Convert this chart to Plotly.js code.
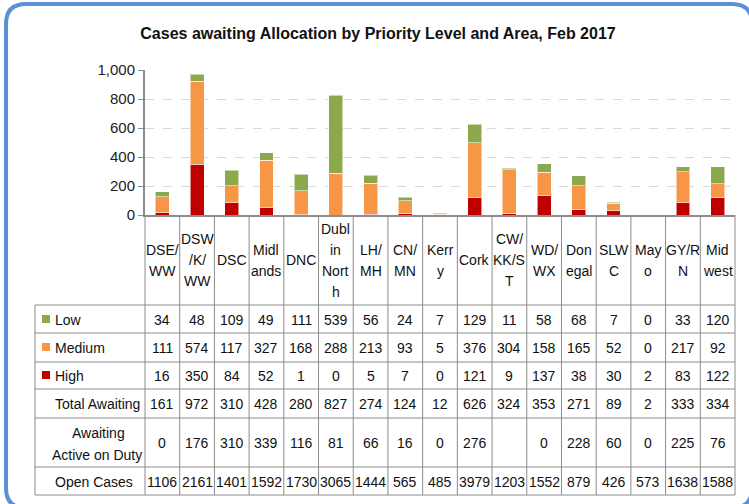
<!DOCTYPE html>
<html>
<head>
<meta charset="utf-8">
<script src="https://cdn.plot.ly/plotly-3.0.1.min.js"></script>
<style>
  html, body { margin: 0; padding: 0; background: #fff; }
  #chart { width: 749px; height: 504px; }
</style>
</head>
<body>
<div id="chart"></div>
<script>
const areas = ['DSE/WW', 'DSW/K/WW', 'DSC', 'Midlands', 'DNC', 'Dublin North', 'LH/MH', 'CN/MN', 'Kerry', 'Cork', 'CW/KK/ST', 'WD/WX', 'Donegal', 'SLWC', 'Mayo', 'GY/RN', 'Midwest'];
// header cells as wrapped in the original table
const headerLines = [['DSE/', 'WW'], ['DSW', '/K/', 'WW'], ['DSC'], ['Midl', 'ands'], ['DNC'], ['Dubl', 'in', 'Nort', 'h'], ['LH/', 'MH'], ['CN/', 'MN'], ['Kerr', 'y'], ['Cork'], ['CW/', 'KK/S', 'T'], ['WD/', 'WX'], ['Don', 'egal'], ['SLW', 'C'], ['May', 'o'], ['GY/R', 'N'], ['Mid', 'west']];

const low = [34, 48, 109, 49, 111, 539, 56, 24, 7, 129, 11, 58, 68, 7, 0, 33, 120];
const medium = [111, 574, 117, 327, 168, 288, 213, 93, 5, 376, 304, 158, 165, 52, 0, 217, 92];
const high = [16, 350, 84, 52, 1, 0, 5, 7, 0, 121, 9, 137, 38, 30, 2, 83, 122];
const totalAwaiting = [161, 972, 310, 428, 280, 827, 274, 124, 12, 626, 324, 353, 271, 89, 2, 333, 334];
const activeOnDuty = [0, 176, 310, 339, 116, 81, 66, 16, 0, 276, null, 0, 228, 60, 0, 225, 76];
const openCases = [1106, 2161, 1401, 1592, 1730, 3065, 1444, 565, 485, 3979, 1203, 1552, 879, 426, 573, 1638, 1588];

const cLow = '#8CA84C';
const cMed = '#F79646';
const cHigh = '#C00000';
const FONT = '"Liberation Sans Narrow", "Liberation Sans", Arial, sans-serif';
const grid = '#8C8C8C';

// plot area in pixels
const X0 = 145, X1 = 735, Y0 = 215, Y1 = 70;
const fx = (px) => (px - X0) / (X1 - X0);
const fy = (py) => (Y0 - py) / (Y0 - Y1);
const colW = (X1 - X0) / areas.length;
const colX = (i) => X0 + (i + 0.5) * colW;

const edge = { color: 'rgba(255,255,255,0.55)', width: 1 };
const traces = [
  { type: 'bar', name: 'High', x: areas, y: high, marker: { color: cHigh, line: edge } },
  { type: 'bar', name: 'Medium', x: areas, y: medium, marker: { color: cMed, line: edge } },
  { type: 'bar', name: 'Low', x: areas, y: low, marker: { color: cLow, line: edge } }
];

const shapes = [];
const annotations = [];
const line = (xa, ya, xb, yb) => shapes.push({
  type: 'line', xref: 'paper', yref: 'paper', x0: fx(xa), y0: fy(ya), x1: fx(xb), y1: fy(yb),
  line: { color: grid, width: 1 }
});

// table grid
const rowLines = [305, 333, 362, 389, 418, 467, 495];
rowLines.forEach((y) => line(35, y, X1, y));
line(35, 305, 35, 495);
for (let i = 0; i <= areas.length; i++) {
  const x = X0 + i * colW;
  line(x, Y0, x, 495);
}

const txt = (x, y, text, anchor) => annotations.push({
  xref: 'paper', yref: 'paper', x: fx(x), y: fy(y), text, showarrow: false,
  xanchor: anchor || 'center', yanchor: 'middle',
  font: { family: FONT, size: 14, color: '#111' }
});

// header labels
headerLines.forEach((parts, i) => {
  const mid = 260;
  const step = 21;
  parts.forEach((p, k) => txt(colX(i), mid + (k - (parts.length - 1) / 2) * step, p));
});

// table rows
const rows = [
  { label: 'Low', y: 320, vals: low, key: cLow },
  { label: 'Medium', y: 348, vals: medium, key: cMed },
  { label: 'High', y: 376, vals: high, key: cHigh },
  { label: 'Total Awaiting', y: 404, vals: totalAwaiting },
  { label: null, y: 443, vals: activeOnDuty },
  { label: 'Open Cases', y: 482, vals: openCases }
];
rows.forEach((r) => {
  if (r.label) txt(53, r.y, r.label, 'left');
  if (r.key) {
    shapes.push({ type: 'rect', xref: 'paper', yref: 'paper', x0: fx(42), x1: fx(50), y0: fy(r.y - 5), y1: fy(r.y + 3), line: { width: 0 }, fillcolor: r.key });
  }
  r.vals.forEach((v, i) => txt(colX(i), r.y, v === null ? '' : String(v)));
});
txt(98, 433, 'Awaiting');
txt(97, 455, 'Active on Duty');

// rounded outer frame
const L = 6, T = 4, R = 752, B = 508, rad = 20;
shapes.push({
  type: 'path', xref: 'paper', yref: 'paper',
  path: `M ${fx(L + rad)} ${fy(T)} L ${fx(R - rad)} ${fy(T)} Q ${fx(R)} ${fy(T)} ${fx(R)} ${fy(T + rad)} ` +
    `L ${fx(R)} ${fy(B - rad)} Q ${fx(R)} ${fy(B)} ${fx(R - rad)} ${fy(B)} L ${fx(L + rad)} ${fy(B)} ` +
    `Q ${fx(L)} ${fy(B)} ${fx(L)} ${fy(B - rad)} L ${fx(L)} ${fy(T + rad)} Q ${fx(L)} ${fy(T)} ${fx(L + rad)} ${fy(T)} Z`,
  line: { color: '#5B8FD6', width: 4 }
});

const layout = {
  width: 749, height: 504,
  margin: { l: X0, r: 749 - X1, t: Y1, b: 504 - Y0, pad: 0 },
  paper_bgcolor: '#fff', plot_bgcolor: '#fff',
  barmode: 'stack', bargap: 0.6,
  showlegend: false,
  title: {
    text: '<b>Cases awaiting Allocation by Priority Level and Area, Feb 2017</b>',
    x: 378 / 749, xanchor: 'center', y: 1 - 33 / 504, yanchor: 'middle',
    font: { family: FONT, size: 16, color: '#111' }
  },
  font: { family: FONT, color: '#222' },
  xaxis: {
    type: 'category', range: [-0.5, areas.length - 0.5], showticklabels: false,
    showline: true, linecolor: grid, linewidth: 2, showgrid: false, ticks: '', fixedrange: true
  },
  yaxis: {
    range: [0, 1000], tickvals: [0, 200, 400, 600, 800, 1000], ticktext: ['0', '200', '400', '600', '800', '1,000'],
    showline: true, linecolor: grid, linewidth: 2, ticks: 'outside', ticklen: 5, tickcolor: grid,
    showgrid: true, gridcolor: '#D9D9D9', griddash: 'dash', gridwidth: 1, zeroline: false,
    tickfont: { family: FONT, size: 15, color: '#222' }, fixedrange: true
  },
  shapes, annotations
};

Plotly.newPlot('chart', traces, layout, { displayModeBar: false, staticPlot: true });
</script>
</body>
</html>
